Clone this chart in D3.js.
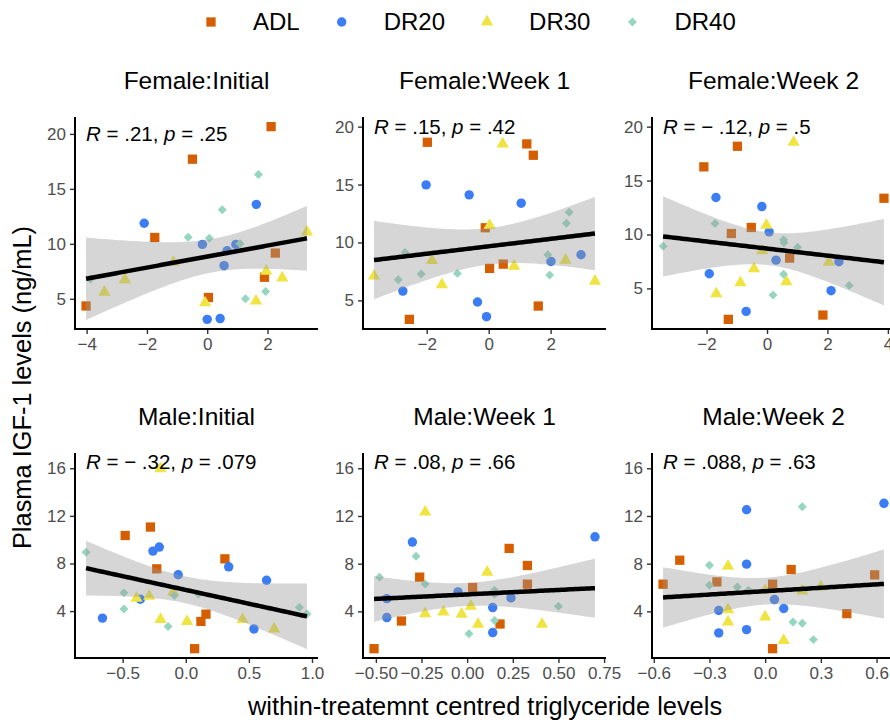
<!DOCTYPE html>
<html>
<head>
<meta charset="utf-8">
<script src="https://cdn.jsdelivr.net/npm/d3@7"></script>
<style>
  body { margin: 0; background: #fff; }
  text { font-family: "Liberation Sans", Arial, sans-serif; }
</style>
</head>
<body>
<div id="chart"></div>
<script>
var width = 890, height = 722;

// groups and colours
var groups = ["ADL", "DR20", "DR30", "DR40"];
var groupColor = ["#D55E00", "#3B7DF4", "#F0E442", "#94D6C0"];

// panels
var panelTitles = ["Female:Initial", "Female:Week 1", "Female:Week 2",
                   "Male:Initial", "Male:Week 1", "Male:Week 2"];
var rValues = [".21", ".15", "\u2212 .12", "\u2212 .32", ".08", ".088"];
var pValues = [".25", ".42", ".5", ".079", ".66", ".63"];
var labelY = [20, 20, 20, 16.5, 16.5, 16.5];
var xTicks = [[-4, -2, 0, 2], [-2, 0, 2], [-2, 0, 2, 4],
              [-0.5, 0, 0.5, 1], [-0.5, -0.25, 0, 0.25, 0.5, 0.75], [-0.6, -0.3, 0, 0.3, 0.6]];
var xTickFormat = ["d", "d", "d", ".1f", ".2f", ".1f"];
var yTicks = [[5, 10, 15, 20], [5, 10, 15, 20], [5, 10, 15, 20],
              [4, 8, 12, 16], [4, 8, 12, 16], [4, 8, 12, 16]];

// Female:Initial
var fInitADL  = [[2.12,20.66],[-0.49,17.7],[-1.74,10.58],[2.26,9.16],[1.90,6.96],[0.04,5.12],[-4.02,4.35]];
var fInitDR20 = [[-2.09,11.87],[1.63,13.59],[-0.16,9.95],[0.95,9.95],[0.66,9.37],[0.56,8.01],[0.0,3.13],[0.43,3.2]];
var fInitDR30 = [[3.31,11.08],[-2.73,6.75],[-3.41,5.61],[-1.12,8.32],[1.96,7.51],[2.49,6.9],[1.62,4.8],[-0.07,4.64]];
var fInitDR40 = [[1.70,16.3],[0.50,13.1],[-0.63,10.6],[0.07,10.5],[1.09,10.0],[-3.87,6.81],[1.27,5.0],[1.94,5.66]];
// Female:Week 1
var fW1ADL  = [[-1.98,18.65],[1.23,18.51],[1.44,17.53],[-0.11,11.27],[0.03,7.76],[0.47,8.13],[1.60,4.51],[-2.56,3.36]];
var fW1DR20 = [[-2.02,14.97],[-0.63,14.11],[1.05,13.39],[2.98,8.94],[2.01,8.36],[-2.77,5.8],[-0.36,4.86],[-0.07,3.59]];
var fW1DR30 = [[0.45,18.51],[0.03,11.47],[-1.83,8.45],[2.48,8.47],[0.82,7.96],[-3.70,7.1],[-1.51,6.35],[3.43,6.66]];
var fW1DR40 = [[2.60,12.61],[2.51,11.66],[-2.70,9.14],[1.91,8.94],[1.97,7.18],[-2.92,6.78],[-2.18,7.27],[-1.01,7.33]];
// Female:Week 2
var fW2ADL  = [[-0.98,18.18],[-2.09,16.27],[3.87,13.36],[-0.52,10.65],[-1.18,10.09],[0.75,7.81],[-1.28,2.13],[1.85,2.53]];
var fW2DR20 = [[-1.69,13.43],[-0.17,12.59],[0.07,10.25],[0.30,7.62],[2.38,7.47],[-1.91,6.36],[2.12,4.79],[-0.69,2.87]];
var fW2DR30 = [[0.88,18.55],[-0.02,10.86],[-0.16,8.49],[2.05,7.44],[-0.43,6.82],[-0.88,5.53],[0.64,5.62],[-1.68,4.51]];
var fW2DR40 = [[-3.44,8.92],[-1.72,11.02],[0.55,9.51],[0.56,9.23],[1.01,8.82],[0.55,6.32],[0.20,4.38],[2.72,5.28]];
// Male:Initial
var mInitADL  = [[-0.48,10.35],[-0.28,11.06],[-0.23,7.55],[0.31,8.39],[0.16,3.74],[0.12,3.13],[0.07,0.84]];
var mInitDR20 = [[-0.26,9.04],[-0.21,9.38],[-0.06,7.05],[0.34,7.72],[0.64,6.59],[-0.36,5.0],[-0.66,3.41],[0.54,2.5]];
var mInitDR30 = [[-0.20,15.97],[-0.39,5.08],[-0.29,5.25],[-0.10,5.58],[-0.20,3.3],[0.01,3.13],[0.45,3.3],[0.70,2.5]];
var mInitDR40 = [[-0.79,8.95],[-0.49,5.53],[-0.49,4.18],[-0.09,5.3],[0.10,5.44],[-0.14,2.71],[0.90,4.31],[0.96,3.76]];
// Male:Week 1
var mW1ADL  = [[0.23,9.28],[0.33,7.85],[0.33,6.28],[-0.26,6.87],[0.03,6.0],[0.18,2.94],[-0.36,3.19],[-0.51,0.87]];
var mW1DR20 = [[0.70,10.25],[-0.30,9.81],[-0.05,5.63],[-0.44,5.07],[0.24,5.13],[-0.44,3.48],[0.14,4.32],[0.14,2.22]];
var mW1DR30 = [[-0.23,12.33],[0.11,7.29],[-0.23,3.81],[-0.13,3.95],[-0.03,3.76],[0.02,4.43],[0.06,2.92],[0.41,2.92]];
var mW1DR40 = [[-0.48,6.87],[-0.28,8.63],[-0.23,6.3],[0.15,5.77],[0.15,5.44],[0.15,3.23],[0.01,2.13],[0.50,4.43]];
// Male:Week 2
var mW2ADL  = [[-0.55,6.28],[-0.46,8.29],[-0.26,6.47],[0.04,6.28],[0.14,7.51],[0.59,7.06],[0.44,3.81],[0.04,0.87]];
var mW2DR20 = [[0.64,13.06],[-0.10,12.52],[-0.10,7.96],[0.05,4.99],[0.10,4.24],[-0.25,4.07],[-0.25,2.19],[-0.10,2.47]];
var mW2DR30 = [[-0.20,7.79],[-0.20,4.15],[-0.20,3.11],[0.0,5.77],[0.20,5.71],[0.30,6.05],[0.0,3.53],[0.10,1.57]];
var mW2DR40 = [[0.20,12.77],[-0.30,7.87],[-0.30,6.19],[-0.15,6.05],[-0.09,5.77],[0.15,3.11],[0.20,3.0],[0.26,1.63]];

var panelData = [
    [fInitADL, fInitDR20, fInitDR30, fInitDR40],
    [fW1ADL, fW1DR20, fW1DR30, fW1DR40],
    [fW2ADL, fW2DR20, fW2DR30, fW2DR40],
    [mInitADL, mInitDR20, mInitDR30, mInitDR40],
    [mW1ADL, mW1DR20, mW1DR30, mW1DR40],
    [mW2ADL, mW2DR20, mW2DR30, mW2DR40]
];

// 97.5% t quantiles for the confidence band
var tCrit = {28: 2.048, 29: 2.045, 30: 2.042};

// layout
var colX = [75, 363, 652], panelW = 243;
var rowY = [117, 453], rowH = [212, 205];

var svg = d3.select("#chart")
    .append("svg")
    .attr("width", width)
    .attr("height", height);

// shape generators, one per group
var shapeSym = [d3.symbolSquare, d3.symbolCircle, d3.symbolTriangle, d3.symbolSquare];
var shapeSize = [86, 70, 66, 40];
var shapeRot = [0, 0, 0, 45];

function expand(ext) {
    var r = ext[1] - ext[0];
    return [ext[0] - 0.05 * r, ext[1] + 0.05 * r];
}

function fitLine(pts) {
    var n = pts.length;
    var mx = d3.mean(pts, function (d) { return d[0]; });
    var my = d3.mean(pts, function (d) { return d[1]; });
    var sxx = d3.sum(pts, function (d) { return (d[0] - mx) * (d[0] - mx); });
    var sxy = d3.sum(pts, function (d) { return (d[0] - mx) * (d[1] - my); });
    var b = sxy / sxx, a = my - b * mx;
    var sse = d3.sum(pts, function (d) { var e = d[1] - a - b * d[0]; return e * e; });
    var s = Math.sqrt(sse / (n - 2));
    return {a: a, b: b, s: s, n: n, mx: mx, sxx: sxx};
}

panelData.forEach(function (groupsPts, i) {
    var x0 = colX[i % 3], y0 = rowY[Math.floor(i / 3)], h = rowH[Math.floor(i / 3)];
    var all = [];
    groupsPts.forEach(function (pts) { all = all.concat(pts); });

    var xExt = d3.extent(all, function (d) { return d[0]; });
    var yExt = d3.extent(all.map(function (d) { return d[1]; }).concat([labelY[i]]));

    var x = d3.scaleLinear().domain(expand(xExt)).range([x0, x0 + panelW]);
    var y = d3.scaleLinear().domain(expand(yExt)).range([y0 + h, y0]);

    var g = svg.append("g");

    svg.append("clipPath").attr("id", "clip" + i)
        .append("rect").attr("x", x0).attr("y", y0).attr("width", panelW).attr("height", h);

    var plot = g.append("g").attr("clip-path", "url(#clip" + i + ")");

    // points
    groupsPts.forEach(function (pts, k) {
        plot.selectAll(null)
            .data(pts)
            .enter()
            .append("path")
            .attr("d", d3.symbol().type(shapeSym[k]).size(shapeSize[k]))
            .attr("transform", function (d) {
                return "translate(" + x(d[0]) + "," + y(d[1]) + ") rotate(" + shapeRot[k] + ")";
            })
            .style("fill", groupColor[k]);
    });

    // linear fit with 95% band
    var fit = fitLine(all);
    var tq = tCrit[fit.n - 2] || 2.04;
    var grid = d3.range(81).map(function (j) { return xExt[0] + j * (xExt[1] - xExt[0]) / 80; });
    var band = grid.map(function (xv) {
        var yh = fit.a + fit.b * xv;
        var se = fit.s * Math.sqrt(1 / fit.n + (xv - fit.mx) * (xv - fit.mx) / fit.sxx);
        return {x: xv, y: yh, lo: yh - tq * se, hi: yh + tq * se};
    });

    plot.append("path")
        .datum(band)
        .attr("d", d3.area()
            .x(function (d) { return x(d.x); })
            .y0(function (d) { return y(d.lo); })
            .y1(function (d) { return y(d.hi); }))
        .style("fill", "#999999")
        .style("fill-opacity", 0.4);

    plot.append("path")
        .datum(band)
        .attr("d", d3.line()
            .x(function (d) { return x(d.x); })
            .y(function (d) { return y(d.y); }))
        .style("fill", "none")
        .style("stroke", "#000")
        .style("stroke-width", 4.5);

    // correlation label
    var lab = g.append("text")
        .attr("x", x(xExt[0]))
        .attr("y", y(labelY[i]))
        .attr("dy", "0.35em")
        .style("font-size", "20.5px")
        .style("fill", "#000");
    lab.append("tspan").style("font-style", "italic").text("R");
    lab.append("tspan").text(" = " + rValues[i] + ", ");
    lab.append("tspan").style("font-style", "italic").text("p");
    lab.append("tspan").text(" = " + pValues[i]);

    // axes
    var xAxis = d3.axisBottom(x).tickValues(xTicks[i]).tickFormat(d3.format(xTickFormat[i]))
        .tickSizeOuter(0).tickSizeInner(5).tickPadding(4);
    var yAxis = d3.axisLeft(y).tickValues(yTicks[i]).tickFormat(d3.format("d"))
        .tickSizeOuter(0).tickSizeInner(5).tickPadding(4);

    var gx = g.append("g").attr("transform", "translate(0," + (y0 + h) + ")").call(xAxis);
    var gy = g.append("g").attr("transform", "translate(" + x0 + ",0)").call(yAxis);

    [gx, gy].forEach(function (ax) {
        ax.select(".domain").remove();
        ax.selectAll(".tick line").style("stroke", "#333").style("stroke-width", 1.4);
        ax.selectAll(".tick text").style("fill", "#4D4D4D").style("font-size", "17px")
            .style("font-family", "'Liberation Sans', Arial, sans-serif");
    });

    g.append("line")
        .attr("x1", x0).attr("x2", x0)
        .attr("y1", y0).attr("y2", y0 + h + 1)
        .style("stroke", "#000").style("stroke-width", 2);
    g.append("line")
        .attr("x1", x0 - 1).attr("x2", x0 + panelW)
        .attr("y1", y0 + h).attr("y2", y0 + h)
        .style("stroke", "#000").style("stroke-width", 2);

    // strip title
    g.append("text")
        .attr("x", x0 + panelW / 2)
        .attr("y", y0 - 37)
        .attr("dy", "0.35em")
        .attr("text-anchor", "middle")
        .style("font-size", "24.5px")
        .text(panelTitles[i]);
});

// axis titles
svg.append("text")
    .attr("x", (colX[0] + colX[2] + panelW) / 2)
    .attr("y", 706)
    .attr("dy", "0.35em")
    .attr("text-anchor", "middle")
    .style("font-size", "25.4px")
    .text("within-treatemnt centred triglyceride levels");

svg.append("text")
    .attr("transform", "translate(22," + ((rowY[0] + rowY[1] + rowH[1]) / 2) + ") rotate(-90)")
    .attr("dy", "0.35em")
    .attr("text-anchor", "middle")
    .style("font-size", "25.4px")
    .text("Plasma IGF-1 levels (ng/mL)");

// legend
var legend = svg.append("g").attr("transform", "translate(0,22)");
var lx = 211;
groups.forEach(function (name, k) {
    legend.append("path")
        .attr("d", d3.symbol().type(shapeSym[k]).size(shapeSize[k]))
        .attr("transform", "translate(" + lx + ",0) rotate(" + shapeRot[k] + ")")
        .style("fill", groupColor[k]);
    var t = legend.append("text")
        .attr("x", lx + 42)
        .attr("dy", "0.35em")
        .style("font-size", "24px")
        .text(name);
    lx = lx + 42 + t.node().getComputedTextLength() + 42;
});
</script>
</body>
</html>
